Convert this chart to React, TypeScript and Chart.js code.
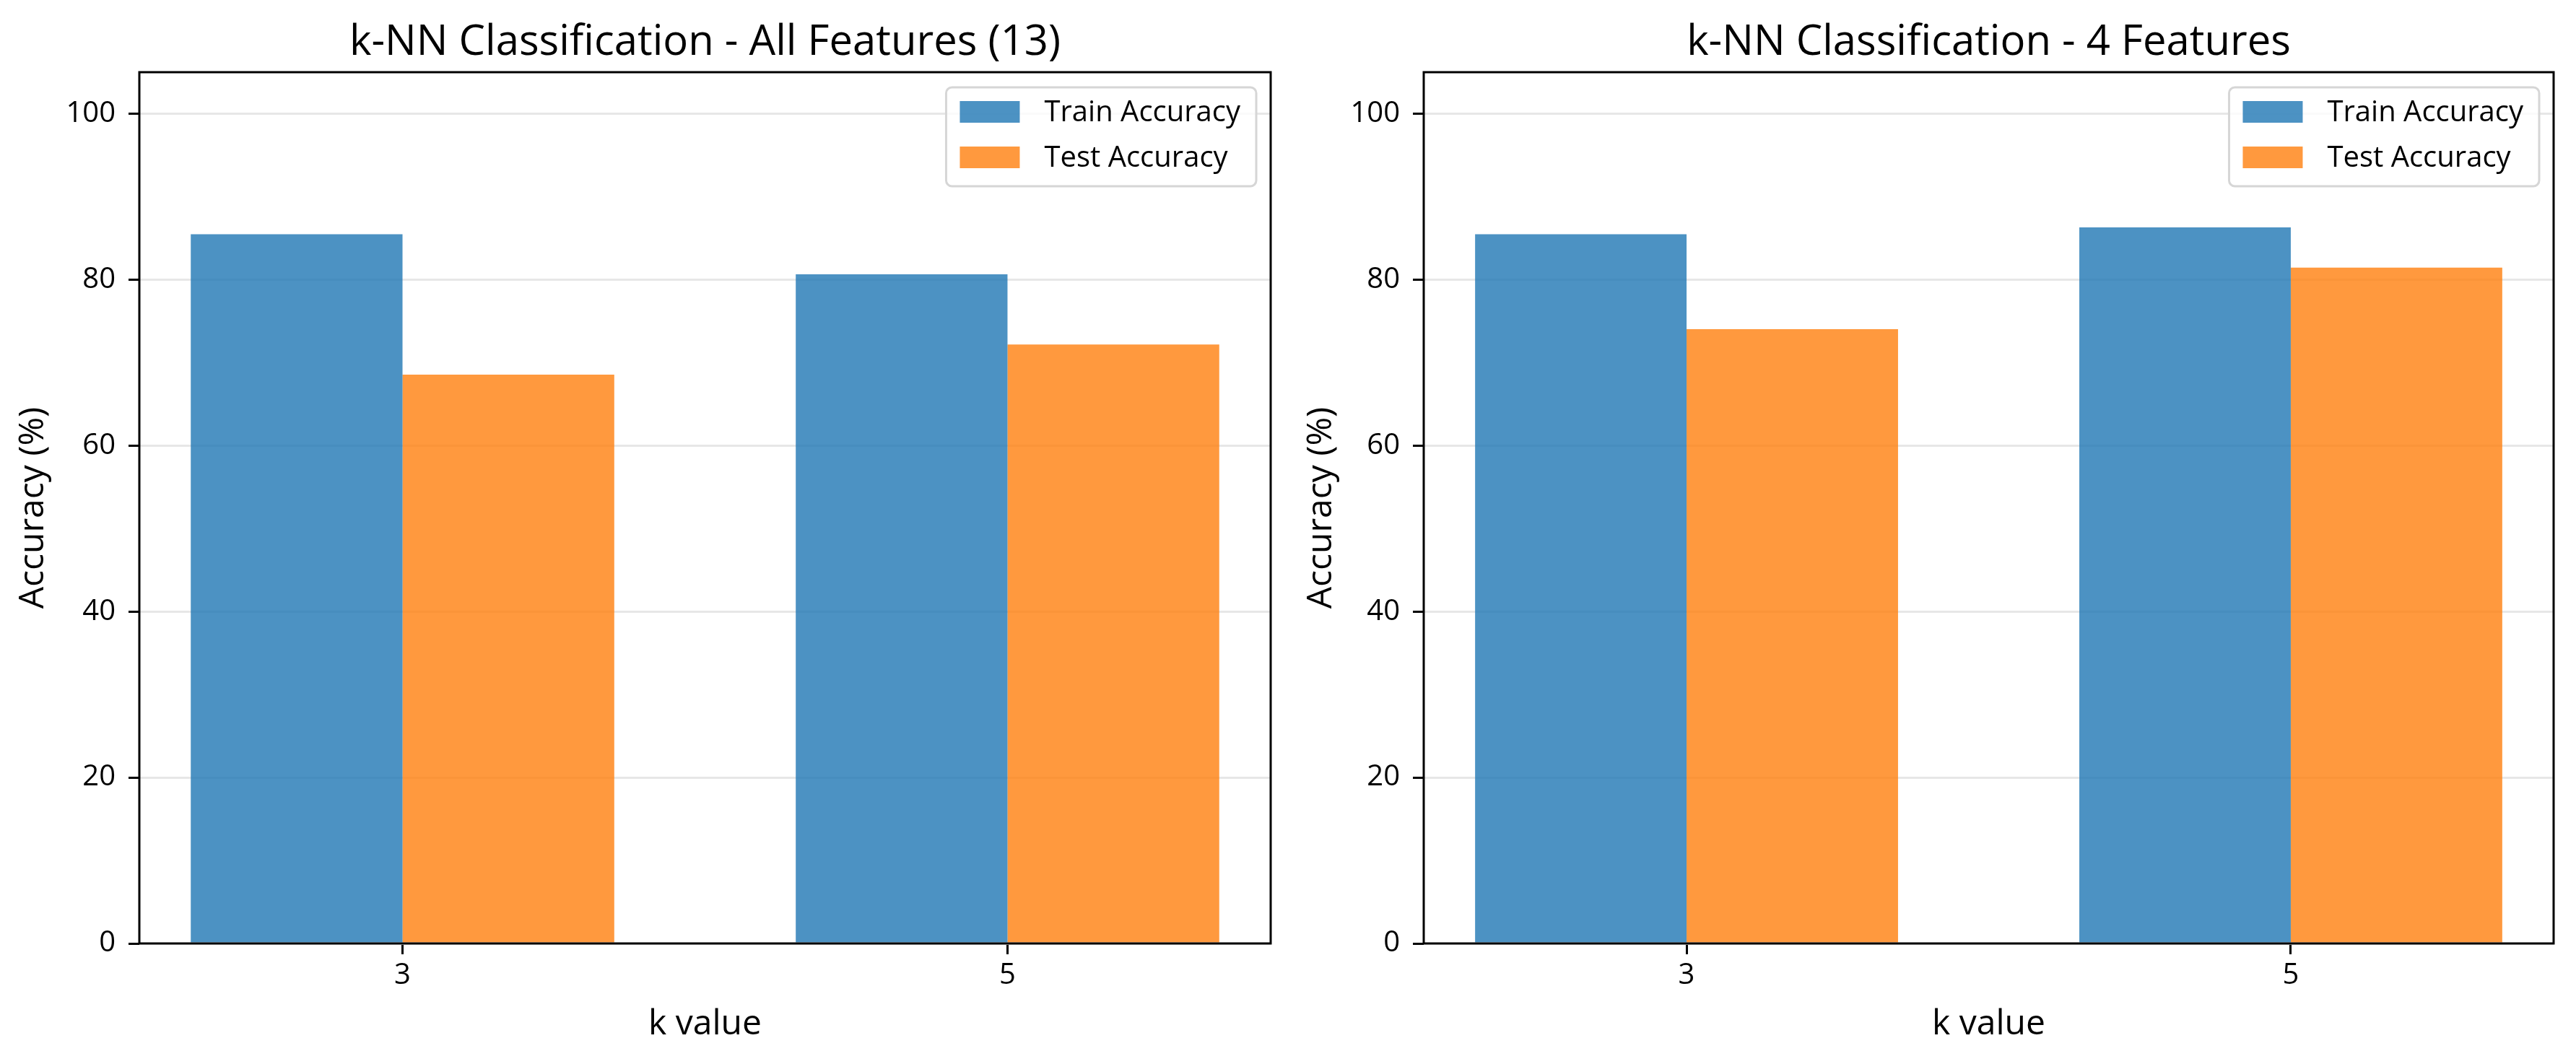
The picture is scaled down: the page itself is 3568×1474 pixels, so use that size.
import React, { useEffect, useRef } from "react";
import { Chart, registerables } from "chart.js";

Chart.register(...registerables);

// k values on the x axis and where each group sits on the linear scale
const kLabels = ["3", "5"];
const kPositions = [0, 1];

// accuracy (%) per k value
const trainAllFeatures = [85.48, 80.65];
const testAllFeatures = [68.55, 72.18];
const trainFourFeatures = [85.48, 86.29];
const testFourFeatures = [74.03, 81.45];

const yTickValues = [0, 20, 40, 60, 80, 100];
const seriesNames = ["Train Accuracy", "Test Accuracy"];
const panelTitles = [
  "k-NN Classification - All Features (13)",
  "k-NN Classification - 4 Features",
];

const FONT = "'Open Sans', 'Noto Sans', 'DejaVu Sans', sans-serif";
const TRAIN_COLOR = "rgba(31, 119, 180, 0.8)";
const TEST_COLOR = "rgba(255, 127, 14, 0.8)";
const GRID_COLOR = "#e7e7e7";
const LINE_W = 3;

const PANEL_W = 1784;
const PANEL_H = 1474;
const AREA_TOP = 100;
const AREA_BOTTOM = 1307;

const TITLE_SIZE = 58;
const LABEL_SIZE = 48;
const TICK_SIZE = 40;
const LEGEND_SIZE = 40;

// black frame round the plot area
const framePlugin = {
  id: "axesFrame",
  afterDatasetsDraw(chart: any) {
    const { ctx, chartArea } = chart;
    ctx.save();
    ctx.strokeStyle = "#000";
    ctx.lineWidth = LINE_W;
    ctx.strokeRect(
      chartArea.left,
      chartArea.top,
      chartArea.right - chartArea.left,
      chartArea.bottom - chartArea.top
    );
    ctx.restore();
  },
};

// legend boxed in the upper-right corner of the plot area
const insetLegendPlugin = {
  id: "insetLegend",
  afterDraw(chart: any) {
    const { ctx, chartArea } = chart;
    const sets = chart.data.datasets;
    ctx.save();
    ctx.font = `${LEGEND_SIZE}px ${FONT}`;
    const textW = Math.max(...sets.map((d: any) => ctx.measureText(d.label).width));
    const padL = 19;
    const padR = 22;
    const handleW = 83;
    const handleH = 30;
    const gap = 34;
    const right = chartArea.right - 20;
    const top = chartArea.top + 21;
    const height = 137;
    const left = right - padR - textW - gap - handleW - padL;
    const r = 8;

    ctx.beginPath();
    ctx.moveTo(left + r, top);
    ctx.lineTo(right - r, top);
    ctx.arcTo(right, top, right, top + r, r);
    ctx.lineTo(right, top + height - r);
    ctx.arcTo(right, top + height, right - r, top + height, r);
    ctx.lineTo(left + r, top + height);
    ctx.arcTo(left, top + height, left, top + height - r, r);
    ctx.lineTo(left, top + r);
    ctx.arcTo(left, top, left + r, top, r);
    ctx.closePath();
    ctx.fillStyle = "rgba(255,255,255,0.8)";
    ctx.fill();
    ctx.strokeStyle = "#d6d6d6";
    ctx.lineWidth = LINE_W;
    ctx.stroke();

    const rowCenters = [top + 34, top + 97];
    sets.forEach((d: any, i: number) => {
      const cy = rowCenters[i];
      ctx.fillStyle = d.backgroundColor;
      ctx.fillRect(left + padL, cy - handleH / 2, handleW, handleH);
      ctx.fillStyle = "#000";
      ctx.textAlign = "left";
      ctx.textBaseline = "middle";
      ctx.fillText(d.label, left + padL + handleW + gap, cy + 2);
    });
    ctx.restore();
  },
};

type PanelProps = {
  title: string;
  train: number[];
  test: number[];
  areaLeft: number;
  areaRight: number;
};

function AccuracyPanel({ title, train, test, areaLeft, areaRight }: PanelProps) {
  const canvasRef = useRef<HTMLCanvasElement | null>(null);

  useEffect(() => {
    if (!canvasRef.current) return;
    const toPoints = (vals: number[]) =>
      vals.map((v, i) => ({ x: kPositions[i], y: v }));

    const chart = new Chart(canvasRef.current, {
      type: "bar",
      data: {
        datasets: [
          {
            label: seriesNames[0],
            data: toPoints(train),
            backgroundColor: TRAIN_COLOR,
            borderWidth: 0,
            categoryPercentage: 0.7,
            barPercentage: 1.0,
          },
          {
            label: seriesNames[1],
            data: toPoints(test),
            backgroundColor: TEST_COLOR,
            borderWidth: 0,
            categoryPercentage: 0.7,
            barPercentage: 1.0,
          },
        ],
      },
      options: {
        responsive: false,
        animation: false,
        devicePixelRatio: 1,
        layout: {
          padding: { left: 0, right: PANEL_W - areaRight, top: 0, bottom: 0 },
        },
        plugins: {
          legend: { display: false },
          tooltip: { enabled: false },
          title: {
            display: true,
            text: title,
            fullSize: false,
            color: "#000",
            font: { family: FONT, size: TITLE_SIZE, weight: "normal", lineHeight: 1.2 },
            padding: { top: 25, bottom: AREA_TOP - 25 - TITLE_SIZE * 1.2 },
          },
        },
        scales: {
          x: {
            type: "linear",
            offset: false,
            min: -0.435,
            max: 1.435,
            afterBuildTicks: (scale: any) => {
              scale.ticks = kPositions.map((v) => ({ value: v }));
            },
            afterFit: (scale: any) => {
              scale.height = PANEL_H - AREA_BOTTOM;
            },
            ticks: {
              color: "#000",
              font: { family: FONT, size: TICK_SIZE, lineHeight: 1.0 },
              padding: 10,
              maxRotation: 0,
              autoSkip: false,
              callback: (_v: any, index: number) => kLabels[index],
            },
            grid: {
              offset: false,
              drawOnChartArea: false,
              drawTicks: true,
              tickLength: 15,
              tickColor: "#000",
              tickWidth: LINE_W,
            },
            border: { display: false },
            title: {
              display: true,
              text: "k value",
              color: "#000",
              font: { family: FONT, size: LABEL_SIZE, lineHeight: 1.2 },
              padding: { top: 0, bottom: 26 },
            },
          },
          y: {
            type: "linear",
            min: 0,
            max: 105,
            afterBuildTicks: (scale: any) => {
              scale.ticks = yTickValues.map((v) => ({ value: v }));
            },
            afterFit: (scale: any) => {
              scale.width = areaLeft;
            },
            ticks: {
              color: "#000",
              font: { family: FONT, size: TICK_SIZE },
              padding: 18,
            },
            grid: {
              color: GRID_COLOR,
              lineWidth: LINE_W,
              drawTicks: true,
              tickLength: 15,
              tickColor: "#000",
              tickWidth: LINE_W,
            },
            border: { display: false },
            title: {
              display: true,
              text: "Accuracy (%)",
              color: "#000",
              font: { family: FONT, size: LABEL_SIZE, lineHeight: 1.0 },
              padding: { top: 22, bottom: 0 },
            },
          },
        },
      },
      plugins: [framePlugin, insetLegendPlugin],
    } as any);

    return () => chart.destroy();
  }, [title, train, test, areaLeft, areaRight]);

  return (
    <canvas
      ref={canvasRef}
      width={PANEL_W}
      height={PANEL_H}
      style={{ display: "block", width: PANEL_W, height: PANEL_H }}
    />
  );
}

export default function App() {
  return (
    <div
      style={{
        position: "absolute",
        left: 0,
        top: 0,
        width: PANEL_W * 2,
        height: PANEL_H,
        display: "flex",
        background: "#fff",
      }}
    >
      <AccuracyPanel
        title={panelTitles[0]}
        train={trainAllFeatures}
        test={testAllFeatures}
        areaLeft={193}
        areaRight={1760}
      />
      <AccuracyPanel
        title={panelTitles[1]}
        train={trainFourFeatures}
        test={testFourFeatures}
        areaLeft={188}
        areaRight={1753}
      />
    </div>
  );
}
